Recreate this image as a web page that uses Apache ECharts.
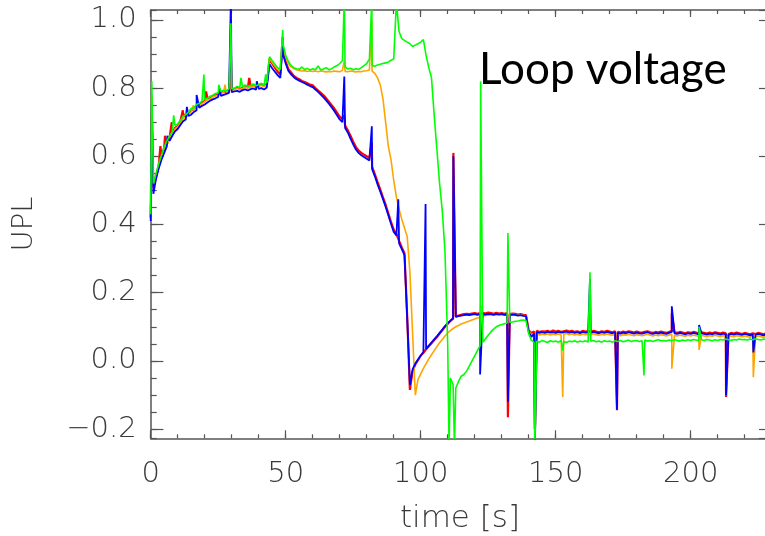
<!DOCTYPE html>
<html>
<head>
<meta charset="utf-8">
<script src="https://cdn.jsdelivr.net/npm/echarts@6/dist/echarts.min.js"></script>
<style>
html,body{margin:0;padding:0;background:#fff;}
#chart{width:765px;height:536px;}
</style>
</head>
<body>
<div id="chart"></div>
<script>
// ---------------- data ----------------
const time = [
0,1,2,3,4,5,6,7,8,9,10,11,12,13,14,15,16,17,18,19,
20,21,22,23,24,25,26,27,28,29,30,31,32,33,34,35,36,37,38,39,
40,41,42,43,44,45,46,47,48,49,50,51,52,53,54,55,56,57,58,59,
60,61,62,63,64,65,66,67,68,69,70,71,72,73,74,75,76,77,78,79,
80,81,82,83,84,85,86,87,88,89,90,91,92,93,94,95,96,97,98,99,
100,101,102,103,104,105,106,107,108,109,110,111,112,113,114,115,116,117,118,119,
120,121,122,123,124,125,126,127,128,129,130,131,132,133,134,135,136,137,138,139,
140,141,142,143,144,145,146,147,148,149,150,151,152,153,154,155,156,157,158,159,
160,161,162,163,164,165,166,167,168,169,170,171,172,173,174,175,176,177,178,179,
180,181,182,183,184,185,186,187,188,189,190,191,192,193,194,195,196,197,198,199,
200,201,202,203,204,205,206,207,208,209,210,211,212,213,214,215,216,217,218,219,
220,221,222,223,224,225,226,227,228,229,230];

const redValues = [
0.42,0.51,0.54,0.575,0.598,0.625,0.636,0.655,0.667,0.683,
0.688,0.703,0.725,0.716,0.724,0.735,0.738,0.748,0.751,0.757,
0.762,0.772,0.769,0.776,0.779,0.781,0.786,0.79,0.789,0.795,
0.793,0.796,0.802,0.797,0.8,0.806,0.801,0.804,0.808,0.803,
0.807,0.811,0.806,0.812,0.885,0.872,0.86,0.848,0.84,0.905,
0.878,0.855,0.846,0.836,0.83,0.826,0.821,0.818,0.814,0.81,
0.808,0.80,0.793,0.786,0.779,0.77,0.76,0.75,0.74,0.728,
0.716,0.71,0.69,0.676,0.66,0.643,0.627,0.617,0.61,0.605,
0.6,0.596,0.57,0.548,0.525,0.503,0.48,0.458,0.433,0.408,
0.385,0.372,0.352,0.333,0.315,0.13,-0.085,-0.03,-0.01,0.002,
0.015,0.024,0.034,0.043,0.052,0.061,0.07,0.08,0.09,0.1,
0.109,0.117,0.124,0.13,0.133,0.135,0.137,0.138,0.137,0.139,
0.14,0.138,0.14,0.141,0.139,0.142,0.14,0.138,0.141,0.139,
0.14,0.138,0.14,0.137,0.139,0.138,0.136,0.137,0.135,0.134,
0.09,0.082,0.086,0.088,0.085,0.087,0.086,0.088,0.085,0.089,
0.086,0.088,0.085,0.087,0.089,0.086,0.088,0.085,0.087,0.084,
0.088,0.086,0.087,0.085,0.088,0.086,0.084,0.087,0.085,0.088,
0.086,0.084,0.087,0.085,0.083,0.086,0.084,0.087,0.085,0.083,
0.086,0.084,0.083,0.085,0.087,0.084,0.082,0.085,0.083,0.086,
0.084,0.082,0.085,0.088,0.084,0.082,0.085,0.083,0.081,0.084,
0.082,0.085,0.083,0.081,0.084,0.082,0.08,0.083,0.081,0.084,
0.082,0.08,0.083,0.081,0.079,0.082,0.08,0.083,0.081,0.079,
0.082,0.08,0.078,0.081,0.079,0.082,0.08,0.078,0.081,0.079,
0.08];
const redSpikes = [[0.4,0.72],[3.6,0.63],[5.3,0.66],[7.8,0.7],[11.9,0.735],[20.5,0.79],[29.7,0.9],[36.5,0.83],
[48.9,0.95],[71.7,0.72],[81.9,0.64],[112.1,0.61],[132.3,-0.165],[142.3,-0.2],[172.7,-0.145],[193,0.14],[213.1,-0.106]];

const orangeValues = [
0.415,0.505,0.54,0.57,0.595,0.618,0.636,0.65,0.664,0.68,
0.686,0.698,0.71,0.714,0.722,0.73,0.736,0.744,0.749,0.754,
0.76,0.765,0.768,0.774,0.777,0.78,0.784,0.787,0.788,0.792,
0.791,0.795,0.799,0.796,0.799,0.803,0.8,0.803,0.806,0.802,
0.805,0.808,0.804,0.81,0.888,0.875,0.865,0.855,0.85,0.915,
0.89,0.872,0.862,0.857,0.854,0.852,0.85,0.851,0.849,0.85,
0.849,0.85,0.848,0.85,0.849,0.847,0.849,0.848,0.85,0.849,
0.848,0.852,0.849,0.848,0.85,0.849,0.847,0.849,0.848,0.85,
0.851,0.853,0.85,0.843,0.83,0.81,0.77,0.7,0.63,0.59,
0.53,0.48,0.445,0.415,0.39,0.365,0.26,0.08,-0.1,-0.055,
-0.038,-0.022,-0.008,0.006,0.018,0.03,0.042,0.053,0.063,0.073,
0.082,0.089,0.095,0.1,0.104,0.108,0.111,0.114,0.117,0.12,
0.123,0.126,0.128,0.131,0.133,0.134,0.135,0.136,0.135,0.137,
0.136,0.134,0.136,0.135,0.137,0.135,0.134,0.135,0.133,0.132,
0.088,0.078,0.077,0.079,0.076,0.078,0.077,0.079,0.076,0.078,
0.077,0.079,0.076,0.078,0.08,0.077,0.079,0.076,0.078,0.075,
0.079,0.077,0.078,0.076,0.079,0.077,0.075,0.078,0.076,0.079,
0.077,0.075,0.078,0.076,0.074,0.077,0.075,0.078,0.076,0.074,
0.077,0.075,0.074,0.076,0.078,0.075,0.073,0.076,0.074,0.077,
0.075,0.073,0.076,0.078,0.075,0.073,0.076,0.074,0.072,0.075,
0.073,0.076,0.074,0.072,0.075,0.073,0.071,0.074,0.072,0.075,
0.073,0.071,0.074,0.072,0.07,0.073,0.071,0.074,0.072,0.07,
0.073,0.071,0.069,0.072,0.07,0.073,0.071,0.069,0.072,0.07,
0.071];
const orangeSpikes = [[0.4,0.78],[15.8,0.75],[27.5,0.81],[29.7,0.85],[48.9,0.94],[71.7,0.88],[81.9,1.0],
[122.2,0.165],[142.3,-0.25],[152.6,-0.106],[193,-0.023],[203.1,0.032],[223.2,-0.048]];

const blueValues = [
0.41,0.49,0.535,0.565,0.59,0.61,0.63,0.645,0.66,0.673,
0.68,0.692,0.703,0.708,0.718,0.722,0.73,0.735,0.742,0.748,
0.752,0.758,0.763,0.767,0.77,0.774,0.777,0.78,0.783,0.786,
0.788,0.79,0.792,0.789,0.794,0.796,0.793,0.797,0.799,0.795,
0.798,0.8,0.796,0.802,0.87,0.858,0.848,0.838,0.83,0.9,
0.872,0.85,0.84,0.832,0.826,0.822,0.818,0.814,0.81,0.806,
0.803,0.796,0.789,0.781,0.773,0.764,0.754,0.744,0.733,0.72,
0.708,0.7,0.683,0.67,0.652,0.635,0.62,0.61,0.603,0.598,
0.593,0.588,0.562,0.542,0.518,0.497,0.475,0.452,0.427,0.402,
0.378,0.368,0.345,0.328,0.31,0.125,-0.07,-0.025,-0.008,0.004,
0.016,0.026,0.035,0.045,0.054,0.063,0.072,0.082,0.092,0.102,
0.11,0.118,0.125,0.129,0.131,0.133,0.134,0.136,0.134,0.136,
0.137,0.135,0.137,0.138,0.136,0.138,0.137,0.135,0.138,0.136,
0.137,0.135,0.136,0.134,0.136,0.135,0.133,0.134,0.132,0.131,
0.085,0.07,0.08,0.084,0.082,0.084,0.082,0.085,0.083,0.084,
0.082,0.085,0.083,0.084,0.086,0.083,0.085,0.082,0.084,0.081,
0.085,0.083,0.084,0.082,0.085,0.083,0.081,0.084,0.082,0.085,
0.083,0.081,0.084,0.082,0.08,0.083,0.081,0.084,0.082,0.08,
0.083,0.081,0.08,0.082,0.084,0.081,0.079,0.082,0.08,0.083,
0.081,0.079,0.082,0.085,0.081,0.079,0.082,0.08,0.078,0.081,
0.079,0.082,0.08,0.078,0.081,0.079,0.077,0.08,0.078,0.081,
0.079,0.077,0.08,0.078,0.076,0.079,0.077,0.08,0.078,0.076,
0.079,0.077,0.075,0.078,0.076,0.079,0.077,0.075,0.078,0.076,
0.077];
const blueSpikes = [[0.4,0.75],[6.2,0.66],[13.4,0.745],[17,0.78],[25.5,0.8],[29.7,1.06],[39.3,0.82],
[48.9,0.93],[71.7,0.834],[81.9,0.688],[91.7,0.474],[101.8,0.46],[112.1,0.6],[122,-0.04],[132.3,-0.12],
[142.3,-0.25],[162.7,0.24],[172.7,-0.143],[193,0.16],[203.1,0.105],[213.1,-0.1],[223.2,0.025]];

const greenValues = [
0.43,0.52,0.55,0.58,0.603,0.628,0.645,0.66,0.672,0.69,
0.695,0.706,0.716,0.722,0.73,0.74,0.742,0.752,0.756,0.762,
0.766,0.77,0.776,0.779,0.784,0.786,0.79,0.793,0.792,0.798,
0.797,0.8,0.805,0.801,0.804,0.809,0.805,0.808,0.812,0.807,
0.81,0.814,0.809,0.815,0.892,0.88,0.87,0.86,0.855,0.93,
0.895,0.878,0.866,0.86,0.857,0.855,0.862,0.854,0.858,0.853,
0.857,0.854,0.865,0.853,0.856,0.86,0.854,0.857,0.862,0.866,
0.872,0.88,0.862,0.856,0.858,0.854,0.857,0.855,0.86,0.866,
0.872,0.885,0.866,0.864,0.868,0.87,0.872,0.874,0.876,0.882,
0.885,1.05,0.965,0.945,0.94,0.935,0.93,0.922,0.926,0.93,
0.935,0.942,0.895,0.86,0.83,0.72,0.62,0.52,0.44,0.32,
0.05,-0.05,-0.07,-0.08,-0.06,-0.045,-0.04,-0.03,-0.015,0.0,
0.015,0.03,0.045,0.055,0.065,0.075,0.085,0.093,0.1,0.104,
0.107,0.109,0.111,0.113,0.114,0.116,0.117,0.119,0.12,0.118,
0.08,0.06,0.055,0.058,0.055,0.06,0.057,0.054,0.059,0.056,
0.058,0.055,0.06,0.057,0.054,0.058,0.056,0.059,0.055,0.058,
0.056,0.059,0.055,0.058,0.06,0.056,0.058,0.055,0.059,0.057,
0.058,0.055,0.059,0.057,0.06,0.056,0.058,0.061,0.057,0.059,
0.06,0.057,0.059,0.061,0.058,0.06,0.057,0.06,0.062,0.059,
0.06,0.058,0.061,0.059,0.062,0.06,0.058,0.061,0.059,0.062,
0.06,0.063,0.061,0.059,0.062,0.06,0.063,0.061,0.059,0.062,
0.06,0.063,0.061,0.064,0.062,0.06,0.063,0.061,0.064,0.062,
0.063,0.061,0.064,0.062,0.065,0.063,0.061,0.064,0.062,0.065,
0.063];
const greenSpikes = [[0.4,0.82],[8.5,0.72],[19.7,0.84],[25.2,0.81],[29.7,0.99],[33.4,0.83],[42.6,0.84],
[48.9,0.97],[71.7,1.06],[81.9,1.06],[110.5,-0.25],[112.5,-0.25],[122.2,0.82],[132.3,0.375],
[142.3,-0.25],[152.6,0.03],[162.7,0.26],[182.7,-0.043],[203.1,0.1]];

const xTickLabels = ['0','50','100','150','200'];
const yTickLabels = ['\u22120.2','0.0','0.2','0.4','0.6','0.8','1.0'];

// ---------------- chart ----------------
function buildSeries(values, spikes) {
  const pts = time.map((t, i) => [t, values[i]]);
  spikes.forEach(s => pts.push([s[0], s[1]]));
  pts.sort((a, b) => a[0] - b[0]);
  return pts;
}

const AX = '#555';
const FONT = 'DejaVu Sans';
const LBL = {fontSize: 29, color: '#3a3a3a', fontFamily: FONT, fontWeight: 200};
const X_MIN = 0, X_MAX = 230, Y_MIN = -0.227, Y_MAX = 1.029;

function xAx(pos, interval, tickLen, showLine, showLabel) {
  return {
    type: 'value', gridIndex: 0, position: pos, min: X_MIN, max: X_MAX, interval: interval,
    axisLine: {show: showLine, onZero: false, lineStyle: {color: AX, width: 1.5}},
    axisTick: {show: true, inside: true, length: tickLen, lineStyle: {color: AX, width: 1.2}},
    axisLabel: showLabel ? Object.assign({show: true, margin: 22, showMaxLabel: false, showMinLabel: true,
      formatter: v => { const i = xTickLabels.indexOf(String(Math.round(v))); return i >= 0 ? xTickLabels[i] : ''; }}, LBL)
      : {show: false},
    splitLine: {show: false}, minorTick: {show: false}
  };
}
function yAx(pos, step, tickLen, showLine, showLabel) {
  return {
    type: 'value', gridIndex: 0, position: pos, min: Y_MIN, max: Y_MAX, minInterval: step, maxInterval: step, splitNumber: 6,
    axisLine: {show: showLine, onZero: false, lineStyle: {color: AX, width: 1.5}},
    axisTick: {show: true, inside: true, length: tickLen, lineStyle: {color: AX, width: 1.2}},
    axisLabel: showLabel ? Object.assign({show: true, margin: 14, showMaxLabel: false, showMinLabel: false,
      formatter: v => { const k = Math.round((v + 0.2) / 0.2); return (Math.abs(v + 0.2 - k * 0.2) < 1e-6 && yTickLabels[k]) ? yTickLabels[k] : ''; }}, LBL)
      : {show: false},
    splitLine: {show: false}, minorTick: {show: false}
  };
}

const chart = echarts.init(document.getElementById('chart'), null, {renderer: 'canvas'});
const lineOf = (name, color, values, spikes, w) => ({
  name, type: 'line', xAxisIndex: 0, yAxisIndex: 0, data: buildSeries(values, spikes),
  showSymbol: false, symbol: 'none', smooth: false, sampling: null, clip: true,
  lineStyle: {color: color, width: w}, itemStyle: {color: color}, z: 2
});

chart.setOption({
  animation: false,
  backgroundColor: '#fff',
  grid: {left: 150.7, top: 10, right: -6.7, bottom: 97.7, containLabel: false, outerBoundsMode: 'none'},
  xAxis: [
    xAx('bottom', 50, 8, true, true),
    xAx('bottom', 10, 4, false, false),
    xAx('top', 50, 7, true, false),
    xAx('top', 10, 4, false, false)
  ],
  yAxis: [
    yAx('left', 0.2, 12.7, true, true),
    yAx('left', 0.05, 6, false, false),
    yAx('right', 0.2, 12.7, true, false),
    yAx('right', 0.05, 6, false, false)
  ],
  series: [
    lineOf('red', '#ff0000', redValues, redSpikes, 2.2),
    lineOf('orange', '#ffa500', orangeValues, orangeSpikes, 1.6),
    lineOf('blue', '#0000ff', blueValues, blueSpikes, 1.8),
    lineOf('green', '#00ff00', greenValues, greenSpikes, 1.6)
  ],
  graphic: [
    {type: 'text', x: 24, y: 224, rotation: Math.PI / 2,
      style: {text: 'UPL', fontSize: 29, fontFamily: FONT, fontWeight: 200, fill: '#3a3a3a', align: 'center', verticalAlign: 'middle'}},
    {type: 'text', x: 460, y: 519,
      style: {text: 'time [s]', fontSize: 31, fontFamily: FONT, fontWeight: 200, fill: '#3a3a3a', align: 'center', verticalAlign: 'middle'}},
    {type: 'text', x: 479, y: 70,
      style: {text: 'Loop voltage', fontSize: 44, fontFamily: 'Lato', fill: '#000', align: 'left', verticalAlign: 'middle'}}
  ]
});
</script>
</body>
</html>
